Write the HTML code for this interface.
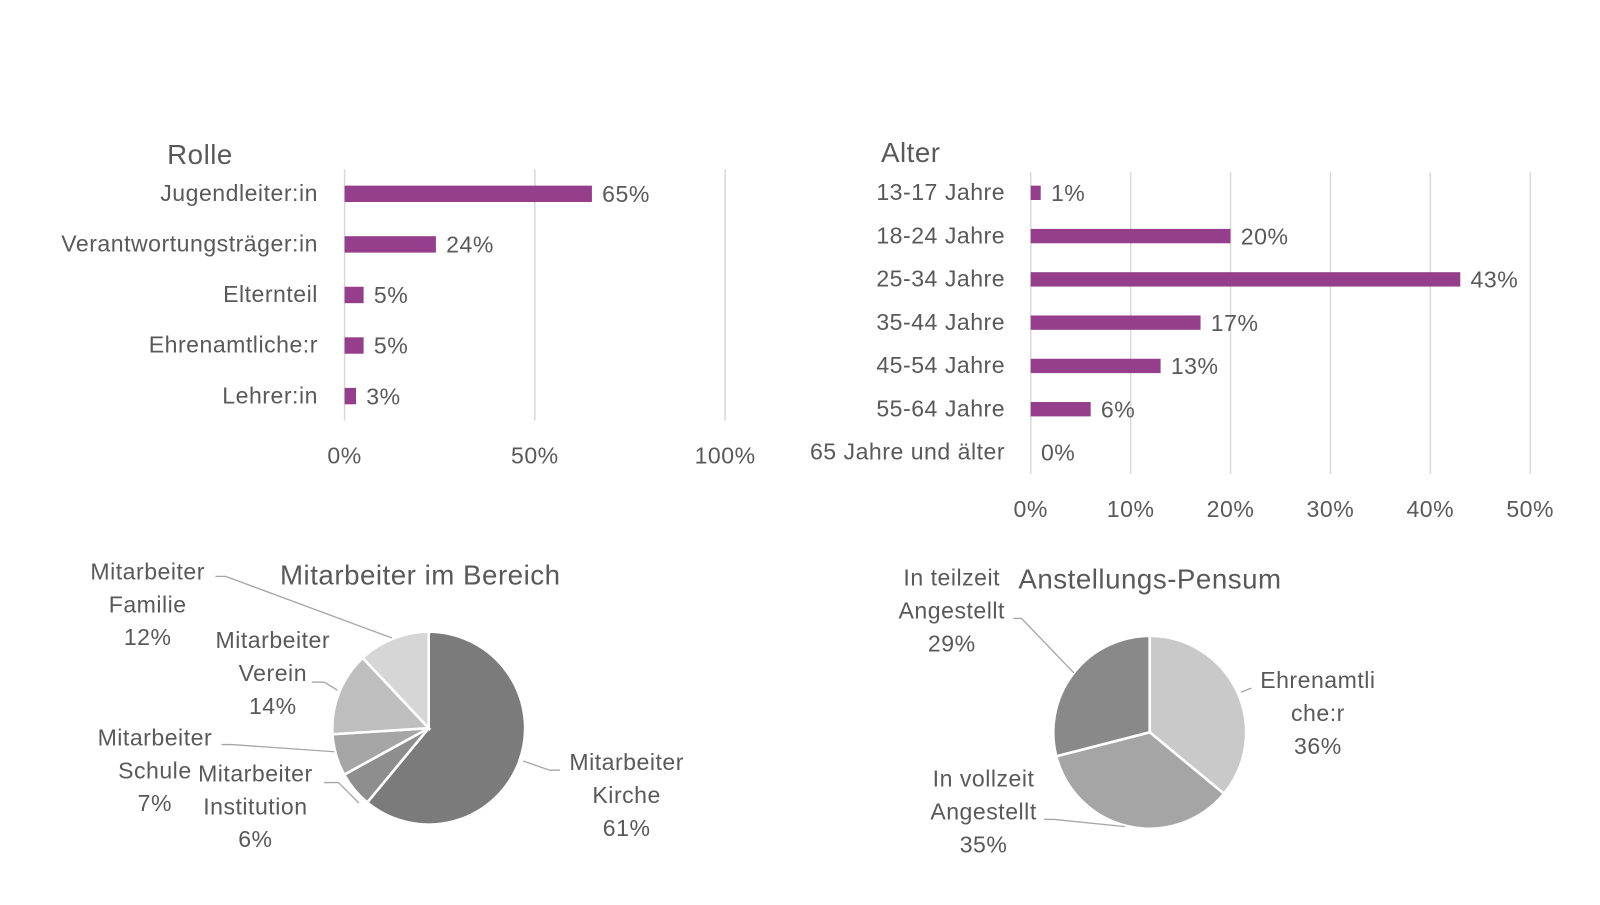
<!DOCTYPE html>
<html><head><meta charset="utf-8"><style>
body{margin:0;background:#fff}
svg{font-family:"Liberation Sans",sans-serif;fill:#595959}
text{fill:#595959;letter-spacing:0.5px}
</style></head><body>
<svg id="s" width="1600" height="900">
<g transform="scale(1.0256)">
<text x="163" y="160" font-size="27">Rolle</text>
<text x="859" y="158" font-size="27">Alter</text>
<text x="273" y="570" font-size="27">Mitarbeiter im Bereich</text>
<text x="993" y="574" font-size="27">Anstellungs-Pensum</text>
<g id="g1"></g><g id="g2"></g><g id="g3"></g><g id="g4"></g>
</g>
</svg>
<script>
const rolleCats=["Jugendleiter:in","Verantwortungsträger:in","Elternteil","Ehrenamtliche:r","Lehrer:in"];
const rolleVals=[65,24,5,5,3];
const rolleTicks=[0,50,100];
const alterCats=["13-17 Jahre","18-24 Jahre","25-34 Jahre","35-44 Jahre","45-54 Jahre","55-64 Jahre","65 Jahre und älter"];
const alterVals=[1,20,43,17,13,6,0];
const alterTicks=[0,10,20,30,40,50];
const bereichCats=["Mitarbeiter Kirche","Mitarbeiter Institution","Mitarbeiter Schule","Mitarbeiter Verein","Mitarbeiter Familie"];
const bereichVals=[61,6,7,14,12];
const pensumCats=["Ehrenamtliche:r","In vollzeit Angestellt","In teilzeit Angestellt"];
const pensumVals=[36,35,29];
const NS="http://www.w3.org/2000/svg";
const FS=22.5;
function mk(p,t,a,txt){const e=document.createElementNS(NS,t);for(const k in a)e.setAttribute(k,a[k]);if(txt!==undefined)e.textContent=txt;p.appendChild(e);return e;}
function bars(g,cats,vals,ticks,x0,x1,max,yTop,step,bh,gy0,gy1,tickY,labX){
  const xs=v=>x0+(x1-x0)*v/max;
  ticks.forEach(t=>{const l=mk(g,'line',{x1:xs(t),x2:xs(t),y1:gy0,y2:gy1,stroke:'#d9d9d9','stroke-width':1.5});
    
    
    const tx=mk(g,'text',{x:xs(t),y:tickY,'font-size':FS,'text-anchor':'middle'},t+'%');
    
    });
  cats.forEach((c,i)=>{const cy=yTop+i*step;
    const lb=mk(g,'text',{x:labX,y:cy+7,'font-size':FS,'text-anchor':'end'},c);
    
    
    const r=mk(g,'rect',{x:x0,y:cy-bh/2,width:Math.max(0,xs(vals[i])-x0),height:bh,fill:'#953f8c'});
    
    
    const v=mk(g,'text',{x:xs(vals[i])+10,y:cy+8,'font-size':FS},vals[i]+'%');
    
    });
}
bars(document.getElementById('g1'),rolleCats,rolleVals,rolleTicks,336,707,100,189,49.3,16,165,410,452,310);
bars(document.getElementById('g2'),alterCats,alterVals,alterTicks,1005,1492,50,188,42.2,14,168,462,504,980);
function pie(g,vals,colors,cx,cy,r){
  const tot=vals.reduce((a,b)=>a+b,0);let a=0;
  vals.forEach((v,i)=>{const a0=a,a1=a+v/tot*2*Math.PI;a=a1;
    const p=(t)=>[cx+r*Math.sin(t),cy-r*Math.cos(t)];
    const [x0,y0]=p(a0),[x1,y1]=p(a1);
    const s=mk(g,'path',{d:`M${cx},${cy}L${x0},${y0}A${r},${r} 0 ${a1-a0>Math.PI?1:0} 1 ${x1},${y1}Z`,fill:colors[i],stroke:'#fff','stroke-width':2.5});
    
    });
}
pie(document.getElementById('g3'),bereichVals,['#7b7b7b','#8e8e8e','#a5a5a5','#bebebe','#d6d6d6'],418,710,94);
pie(document.getElementById('g4'),pensumVals,['#c9c9c9','#a5a5a5','#898989'],1121,714,94);
function lab(g,lines,x,y,anchor){lines.forEach((l,i)=>{const t=mk(g,'text',{x:x,y:y+i*32,'font-size':FS,'text-anchor':anchor||'middle'},l);
  
  });}
function ln(g,pts){const l=mk(g,'polyline',{points:pts,fill:'none',stroke:'#a6a6a6','stroke-width':1.3});
  
  }
const g3=document.getElementById('g3'),g4=document.getElementById('g4');
lab(g3,["Mitarbeiter","Familie",bereichVals[4]+"%"],144,565);
lab(g3,["Mitarbeiter","Verein",bereichVals[3]+"%"],266,632);
lab(g3,["Mitarbeiter","Schule",bereichVals[2]+"%"],151,727);
lab(g3,["Mitarbeiter","Institution",bereichVals[1]+"%"],249,762);
lab(g3,["Mitarbeiter","Kirche",bereichVals[0]+"%"],611,751);
ln(g3,"210,562 220,562 382,622");ln(g3,"304,665 316,665 329,673");ln(g3,"216,726 226,726 326,733");ln(g3,"316,763 330,763 350,783");ln(g3,"546,751 536,751 510,742");
lab(g4,["In teilzeit","Angestellt",pensumVals[2]+"%"],928,571);
lab(g4,["Ehrenamtli","che:r",pensumVals[0]+"%"],1285,671);
lab(g4,["In vollzeit","Angestellt",pensumVals[1]+"%"],959,767);
ln(g4,"988,603 996,603 1047,656");ln(g4,"1220,671 1210,675");ln(g4,"1018,799 1028,799 1097,806");
</script>
</body></html>
